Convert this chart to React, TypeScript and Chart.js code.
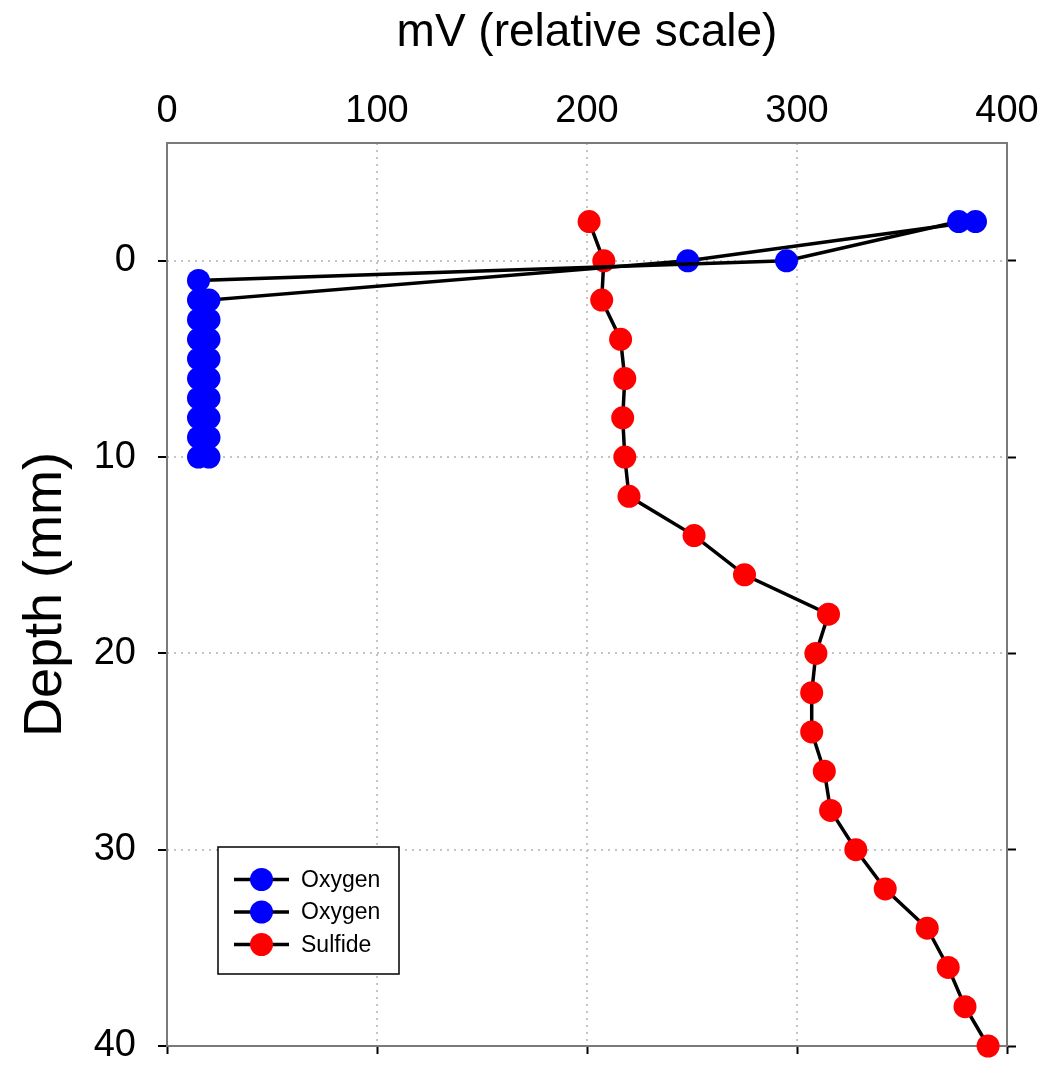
import { useEffect, useRef } from 'react';
import { Chart, registerables } from 'chart.js';

Chart.register(...registerables);

// ---- data ----
const xTickValues = [0, 100, 200, 300, 400];
const yTickValues = [0, 10, 20, 30, 40];

const oxygenADepth = [-2, 0, 1, 2, 3, 4, 5, 6, 7, 8, 9, 10];
const oxygenAmV = [377, 295, 15, 15, 15, 15, 15, 15, 15, 15, 15, 15];

const oxygenBDepth = [-2, 0, 2, 3, 4, 5, 6, 7, 8, 9, 10];
const oxygenBmV = [385, 248, 20, 20, 20, 20, 20, 20, 20, 20, 20];

const sulfideDepth = [-2, 0, 2, 4, 6, 8, 10, 12, 14, 16, 18, 20, 22, 24, 26, 28, 30, 32, 34, 36, 38, 40];
const sulfidemV = [201, 208, 207, 216, 218, 217, 218, 220, 251, 275, 315, 309, 307, 307, 313, 316, 328, 342, 362, 372, 380, 391];

const seriesLabels = ['Oxygen', 'Oxygen', 'Sulfide'];
const seriesColors = ['#0000ff', '#0000ff', '#ff0000'];

const FONT = "'Liberation Sans', Arial, Helvetica, sans-serif";

function pts(xs: number[], ys: number[]) {
  return xs.map((x, i) => ({ x, y: ys[i] }));
}

const framePlugin = {
  id: 'frame',
  beforeDatasetsDraw(chart: any) {
    const { ctx, chartArea: a } = chart;
    ctx.save();
    ctx.strokeStyle = '#7a7a7a';
    ctx.lineWidth = 2;
    ctx.strokeRect(a.left, a.top, a.right - a.left, a.bottom - a.top);
    ctx.restore();
  },
};

const legendPlugin = {
  id: 'boxLegend',
  afterDatasetsDraw(chart: any) {
    const { ctx, chartArea: a } = chart;
    const bx = a.left + 51;
    const by = a.top + 704;
    const bw = 181;
    const bh = 127;
    ctx.save();
    ctx.fillStyle = '#fff';
    ctx.fillRect(bx, by, bw, bh);
    ctx.strokeStyle = '#000';
    ctx.lineWidth = 1.5;
    ctx.strokeRect(bx, by, bw, bh);
    chart.data.datasets.forEach((ds: any, i: number) => {
      const cy = by + 32.5 + i * 32.5;
      ctx.strokeStyle = '#000';
      ctx.lineWidth = 3.5;
      ctx.beginPath();
      ctx.moveTo(bx + 16, cy);
      ctx.lineTo(bx + 71, cy);
      ctx.stroke();
      ctx.fillStyle = ds.pointBackgroundColor;
      ctx.beginPath();
      ctx.arc(bx + 43.5, cy, 11.5, 0, Math.PI * 2);
      ctx.fill();
      ctx.fillStyle = '#000';
      ctx.font = `23px ${FONT}`;
      ctx.textBaseline = 'middle';
      ctx.textAlign = 'left';
      ctx.fillText(ds.label, bx + 83, cy + 1);
    });
    ctx.restore();
  },
};

export default function App() {
  const ref = useRef<HTMLCanvasElement | null>(null);

  useEffect(() => {
    document.body.style.margin = '0';
    document.body.style.overflow = 'hidden';
    const canvas = ref.current;
    if (!canvas) return;

    const mkDs = (label: string, color: string, data: any[]) => ({
      label,
      data,
      showLine: true,
      borderColor: '#000',
      borderWidth: 3.5,
      pointRadius: 11.5,
      pointHoverRadius: 11.5,
      pointBackgroundColor: color,
      pointBorderWidth: 0,
      pointHoverBorderWidth: 0,
      fill: false,
      clip: false,
    });

    const setX = (s: any) => {
      s.ticks = xTickValues.map((v) => ({ value: v }));
    };
    const setY = (s: any) => {
      s.ticks = yTickValues.map((v) => ({ value: v }));
    };
    const fitH = (h: number) => (s: any) => {
      s.height = h;
      s.paddingLeft = 0;
      s.paddingRight = 0;
    };
    const fitW = (w: number) => (s: any) => {
      s.width = w;
      s.paddingTop = 0;
      s.paddingBottom = 0;
    };

    const chart = new Chart(canvas, {
      type: 'scatter',
      data: {
        datasets: [
          mkDs(seriesLabels[0], seriesColors[0], pts(oxygenAmV, oxygenADepth)),
          mkDs(seriesLabels[1], seriesColors[1], pts(oxygenBmV, oxygenBDepth)),
          mkDs(seriesLabels[2], seriesColors[2], pts(sulfidemV, sulfideDepth)),
        ],
      },
      options: {
        animation: false,
        responsive: false,
        events: [],
        layout: { padding: 0 },
        plugins: {
          legend: { display: false },
          tooltip: { enabled: false },
        },
        scales: {
          x: {
            type: 'linear',
            position: 'top',
            min: 0,
            max: 400,
            afterBuildTicks: setX,
            afterFit: fitH(143),
            ticks: {
              color: '#000',
              font: { family: FONT, size: 38 },
              padding: 9,
              maxRotation: 0,
            },
            grid: {
              color: '#c4c4c4',
              lineWidth: 2,
              drawTicks: false,
            },
            border: { display: false, dash: [2, 5] },
            title: {
              display: true,
              text: 'mV (relative scale)',
              color: '#000',
              font: { family: FONT, size: 46 },
              padding: { top: 6, bottom: 0 },
            },
          },
          x2: {
            type: 'linear',
            position: 'bottom',
            min: 0,
            max: 400,
            afterBuildTicks: setX,
            afterFit: fitH(19),
            ticks: { display: false },
            grid: {
              drawOnChartArea: false,
              drawTicks: true,
              tickLength: 8,
              tickColor: '#000',
              tickWidth: 2,
              tickBorderDash: [],
            },
            border: { display: false },
          },
          y: {
            type: 'linear',
            position: 'left',
            reverse: true,
            min: -6,
            max: 40,
            afterBuildTicks: setY,
            afterFit: fitW(167),
            ticks: {
              color: '#000',
              font: { family: FONT, size: 38 },
              padding: 22,
            },
            grid: {
              color: '#c4c4c4',
              lineWidth: 2,
              drawTicks: true,
              tickLength: 9,
              tickColor: '#000',
              tickWidth: 2,
              tickBorderDash: [],
            },
            border: { display: false, dash: [2, 5] },
            title: {
              display: true,
              text: 'Depth (mm)',
              color: '#000',
              font: { family: FONT, size: 54 },
              padding: { top: 14, bottom: 0 },
            },
          },
          y2: {
            type: 'linear',
            position: 'right',
            reverse: true,
            min: -6,
            max: 40,
            afterBuildTicks: setY,
            afterFit: fitW(40),
            ticks: { display: false },
            grid: {
              drawOnChartArea: false,
              drawTicks: true,
              tickLength: 9,
              tickColor: '#000',
              tickWidth: 2,
              tickBorderDash: [],
            },
            border: { display: false },
          },
        },
      } as any,
      plugins: [framePlugin, legendPlugin],
    });

    return () => {
      chart.destroy();
    };
  }, []);

  return (
    <div style={{ width: 1047, height: 1065 }}>
      <canvas ref={ref} width={1047} height={1065} style={{ display: 'block' }} />
    </div>
  );
}
